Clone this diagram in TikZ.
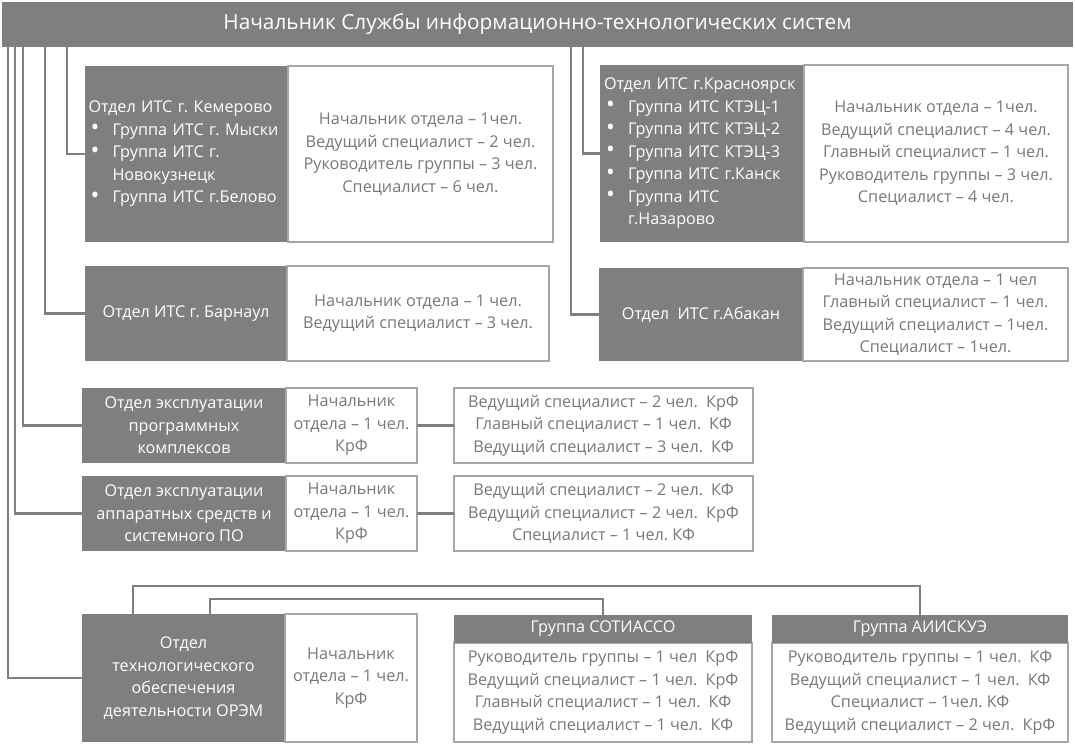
\documentclass[tikz,border=0pt]{standalone}
\usepackage{fontspec}
\setmainfont{Open Sans}
\usetikzlibrary{calc}
\definecolor{boxgray}{RGB}{127,127,127}
\definecolor{edgegray}{RGB}{166,166,166}
\definecolor{txtgray}{RGB}{120,120,120}
% bullet with its indent, and the indent alone for wrapped items
\newcommand{\bul}{\hspace*{2pt}\makebox[22pt][l]{\raisebox{-0.5pt}{\scalebox{1.45}{•}}}}
\newcommand{\bulind}{\hspace*{24pt}}
\frenchspacing
\begin{document}
\begin{tikzpicture}[x=1pt,y=-1pt,
  every node/.style={inner sep=0pt, outer sep=0pt},
  base/.style={rectangle, anchor=north west, font=\fontsize{16.2}{22.5}\selectfont},
  sz/.style 2 args={minimum width=#1, minimum height=#2},
  dark/.style={base, fill=boxgray, text=white, align=center},
  light/.style={base, draw=edgegray, line width=1.3pt, fill=white, text=txtgray, align=center},
  conn/.style={draw=boxgray, line width=2.5pt},
]
\useasboundingbox (0,0) rectangle (1075,747);

% head of the service
\node[dark, sz={1071}{45}, font=\fontsize{20.8}{24}\selectfont] (head) at (2,2)
  {Начальник Службы информационно-технологических систем};

% Kemerovo
\node[dark, sz={203}{176}, text width=196pt, align=left] (kem) at (85,66)
  {Отдел ИТС г. Кемерово\\
   \bul Группа ИТС г. Мыски\\
   \bul Группа ИТС г.\\
   \bulind Новокузнецк\\
   \bul Группа ИТС г.Белово};
\node[light, sz={265}{176}] (kemw) at (288,66)
  {Начальник отдела – 1чел.\\
   Ведущий специалист – 2 чел.\\
   Руководитель группы – 3 чел.\\
   Специалист – 6 чел.};

% Krasnoyarsk
\node[dark, sz={204}{177}, text width=196pt, align=left] (kras) at (600,65)
  {Отдел ИТС г.Красноярск\\
   \bul Группа ИТС КТЭЦ-1\\
   \bul Группа ИТС КТЭЦ-2\\
   \bul Группа ИТС КТЭЦ-3\\
   \bul Группа ИТС г.Канск\\
   \bul Группа ИТС\\
   \bulind г.Назарово};
\node[light, sz={264}{177}] (krasw) at (804,65)
  {Начальник отдела – 1чел.\\
   Ведущий специалист – 4 чел.\\
   Главный специалист – 1 чел.\\
   Руководитель группы – 3 чел.\\
   Специалист – 4 чел.};

% Barnaul
\node[dark, sz={202}{95}] (barn) at (85,266) {Отдел ИТС г. Барнаул};
\node[light, sz={262}{95}] (barnw) at (287,266)
  {Начальник отдела – 1 чел.\\
   Ведущий специалист – 3 чел.};

% Abakan
\node[dark, sz={204}{93}] (abak) at (599,268) {Отдел \ ИТС г.Абакан};
\node[light, sz={265}{93}] (abakw) at (803,268)
  {Начальник отдела – 1 чел\\
   Главный специалист – 1 чел.\\
   Ведущий специалист – 1чел.\\
   Специалист – 1чел.};

% software systems operation
\node[dark, sz={204}{75}] (prog) at (82,388)
  {Отдел эксплуатации\\программных\\комплексов};
\node[light, sz={131}{75}] (progw) at (286,388)
  {Начальник\\отдела – 1 чел.\\КрФ};
\node[light, sz={299}{75}] (progr) at (454,388)
  {Ведущий специалист – 2 чел.\enspace КрФ\\
   Главный специалист – 1 чел.\enspace КФ\\
   Ведущий специалист – 3 чел.\enspace КФ};

% hardware and system software operation
\node[dark, sz={204}{75}] (hw) at (82,476)
  {Отдел эксплуатации\\аппаратных средств и\\системного ПО};
\node[light, sz={131}{75}] (hww) at (286,476)
  {Начальник\\отдела – 1 чел.\\КрФ};
\node[light, sz={299}{75}] (hwr) at (454,476)
  {Ведущий специалист – 2 чел.\enspace КФ\\
   Ведущий специалист – 2 чел.\enspace КрФ\\
   Специалист – 1 чел. КФ};

% wholesale market support
\node[dark, sz={203}{128}] (orem) at (82,614)
  {Отдел\\технологического\\обеспечения\\деятельности ОРЭМ};
\node[light, sz={132}{128}] (oremw) at (285,614)
  {Начальник\\отдела – 1 чел.\\КрФ};

% groups
\node[light, sz={298}{99}] (sotb) at (454,643)
  {Руководитель группы – 1 чел\enspace КрФ\\
   Ведущий специалист – 1 чел.\enspace КрФ\\
   Главный специалист – 1 чел.\enspace КФ\\
   Ведущий специалист – 1 чел.\enspace КФ};
\node[dark, sz={298}{28}] (soth) at (454,615) {Группа СОТИАССО};
\node[light, sz={296}{99}] (aiib) at (772,643)
  {Руководитель группы – 1 чел.\enspace КФ\\
   Ведущий специалист – 1 чел.\enspace КФ\\
   Специалист – 1чел. КФ\\
   Ведущий специалист – 2 чел.\enspace КрФ};
\node[dark, sz={296}{28}] (aiih) at (772,615) {Группа АИИСКУЭ};

% connectors from the head
\draw[conn] ($(head.south west)+(65,0)$) |- (kem.west);
\draw[conn] ($(head.south west)+(43,0)$) |- (barn.west);
\draw[conn] ($(head.south west)+(21,0)$) |- (prog.west);
\draw[conn] ($(head.south west)+(13,0)$) |- (hw.west);
\draw[conn] ($(head.south west)+(6,0)$) |- (orem.west);
\draw[conn] ($(head.south west)+(581,0)$) |- (kras.west);
\draw[conn] ($(head.south west)+(569,0)$) |- (abak.west);

% staff links
\draw[conn] (progw.east) -- (progr.west);
\draw[conn] (hww.east) -- (hwr.west);
\draw[conn] ($(orem.north west)+(51,0)$) -- ++(0,-28) -| (aiih.north);
\draw[conn] ($(orem.north west)+(128,0)$) -- ++(0,-15) -| (soth.north);
\end{tikzpicture}
\end{document}
